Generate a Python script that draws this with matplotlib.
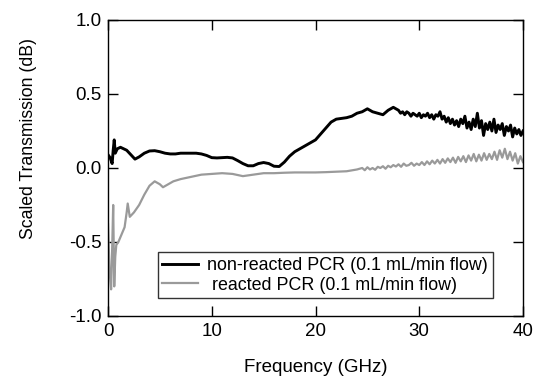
import matplotlib
matplotlib.use("Agg")
import matplotlib.pyplot as plt

plt.rcParams['font.family'] = ['Liberation Sans', 'DejaVu Sans']

# Non-reacted PCR (black)
freq_nr = [0.0, 0.2, 0.4, 0.5, 0.6, 0.7, 0.9, 1.2, 1.5, 1.8, 2.2, 2.6, 3.0, 3.5, 4.0, 4.5,
           5.0, 5.5, 6.0, 6.5, 7.0, 7.5, 8.0, 8.5, 9.0, 9.5, 10.0, 10.5, 11.0, 11.5, 12.0,
           12.5, 13.0, 13.5, 14.0, 14.5, 15.0, 15.5, 16.0, 16.5, 17.0, 17.5, 18.0, 18.5,
           19.0, 19.5, 20.0, 20.5, 21.0, 21.5, 22.0, 22.5, 23.0, 23.5, 24.0, 24.5, 25.0,
           25.5, 26.0, 26.5, 27.0, 27.5,
           28.0, 28.2, 28.4, 28.6, 28.8, 29.0, 29.2, 29.4, 29.6, 29.8,
           30.0, 30.2, 30.4, 30.6, 30.8, 31.0, 31.2, 31.4, 31.6, 31.8,
           32.0, 32.2, 32.4, 32.6, 32.8, 33.0, 33.2, 33.4, 33.6, 33.8,
           34.0, 34.2, 34.4, 34.6, 34.8, 35.0, 35.2, 35.4, 35.6, 35.8,
           36.0, 36.2, 36.4, 36.6, 36.8, 37.0, 37.2, 37.4, 37.6, 37.8,
           38.0, 38.2, 38.4, 38.6, 38.8, 39.0, 39.2, 39.4, 39.6, 39.8, 40.0]
trans_nr = [0.09, 0.07, 0.03, 0.12, 0.19, 0.10, 0.13, 0.14, 0.13, 0.12, 0.09, 0.06, 0.075,
            0.10, 0.115, 0.117, 0.11, 0.10, 0.095, 0.095, 0.10, 0.10, 0.10, 0.10, 0.095,
            0.085, 0.07, 0.068, 0.07, 0.072, 0.068, 0.05, 0.03, 0.015, 0.015, 0.03, 0.037,
            0.03, 0.012, 0.01, 0.04, 0.08, 0.11, 0.13, 0.15, 0.17, 0.19, 0.23, 0.27, 0.31,
            0.33, 0.335, 0.34, 0.35, 0.37, 0.38, 0.40, 0.38, 0.37, 0.36, 0.39, 0.41,
            0.39, 0.37, 0.38, 0.36, 0.38, 0.37, 0.35, 0.37, 0.36, 0.35,
            0.37, 0.34, 0.36, 0.35, 0.37, 0.34, 0.36, 0.33, 0.36, 0.35,
            0.38, 0.33, 0.35, 0.31, 0.34, 0.30, 0.33, 0.29, 0.32, 0.28,
            0.33, 0.30, 0.35, 0.27, 0.31, 0.26, 0.33, 0.28, 0.37, 0.27,
            0.32, 0.22, 0.30, 0.26, 0.31, 0.25, 0.33, 0.24, 0.29, 0.26,
            0.30, 0.22, 0.28, 0.25, 0.29, 0.21, 0.27, 0.23, 0.26, 0.22, 0.25]

# Reacted PCR (grey)
freq_r = [0.0, 0.15, 0.3, 0.4, 0.5, 0.6, 0.7, 0.8, 1.0, 1.3, 1.6, 1.8, 1.9, 2.1, 2.5, 3.0,
          3.5, 4.0, 4.5, 5.0, 5.3, 5.8, 6.3, 7.0, 8.0, 9.0, 10.0, 11.0, 12.0, 13.0, 14.0,
          15.0, 16.0, 17.0, 18.0, 19.0, 20.0, 21.0, 22.0, 23.0,
          24.0, 24.25, 24.5, 24.75, 25.0, 25.25, 25.5, 25.75, 26.0, 26.25, 26.5, 26.75,
          27.0, 27.25, 27.5, 27.75, 28.0, 28.25, 28.5, 28.75, 29.0, 29.25, 29.5, 29.75,
          30.0, 30.25, 30.5, 30.75, 31.0, 31.25, 31.5, 31.75, 32.0, 32.25, 32.5, 32.75,
          33.0, 33.25, 33.5, 33.75, 34.0, 34.25, 34.5, 34.75, 35.0, 35.25, 35.5, 35.75,
          36.0, 36.25, 36.5, 36.75, 37.0, 37.25, 37.5, 37.75, 38.0, 38.25, 38.5, 38.75,
          39.0, 39.25, 39.5, 39.75, 40.0]
trans_r = [-0.38, -0.70, -0.82, -0.55, -0.25, -0.80, -0.60, -0.52, -0.50, -0.45, -0.40,
           -0.30, -0.24, -0.33, -0.30, -0.25, -0.18, -0.12, -0.09, -0.11, -0.13, -0.11,
           -0.09, -0.075, -0.06, -0.045, -0.04, -0.035, -0.04, -0.055, -0.045, -0.035,
           -0.035, -0.032, -0.03, -0.03, -0.03, -0.028, -0.025, -0.022,
           -0.01, -0.005, 0.0, -0.015, 0.005, -0.01, 0.0, -0.012, 0.008, 0.0, 0.012, -0.005,
           0.015, 0.005, 0.02, 0.01, 0.025, 0.008, 0.03, 0.015, 0.02, 0.035, 0.015, 0.03,
           0.02, 0.04, 0.02, 0.045, 0.025, 0.05, 0.03, 0.055, 0.03, 0.06, 0.035, 0.065,
           0.04, 0.07, 0.035, 0.075, 0.045, 0.08, 0.04, 0.085, 0.05, 0.095, 0.045, 0.09,
           0.05, 0.10, 0.055, 0.095, 0.06, 0.11, 0.055, 0.12, 0.07, 0.13, 0.06, 0.11,
           0.05, 0.10, 0.03, 0.08, 0.04]

x_ticks = [0, 10, 20, 30, 40]
y_ticks = [-1.0, -0.5, 0.0, 0.5, 1.0]

fig = plt.figure(figsize=(5.34, 3.80), dpi=100)
ax = fig.add_axes([108/534, 1 - 316/380, 415/534, 296/380])

ax.plot(freq_r, trans_r, color='#9a9a9a', lw=1.6,
        label=' reacted PCR (0.1 mL/min flow)')
ax.plot(freq_nr, trans_nr, color='black', lw=2.1,
        label='non-reacted PCR (0.1 mL/min flow)')

ax.set_xlim(0, 40)
ax.set_ylim(-1.0, 1.0)
ax.set_xticks(x_ticks)
ax.set_yticks(y_ticks)
ax.set_yticklabels([f"{v:.1f}" for v in y_ticks])
ax.tick_params(direction='in', top=True, right=True, length=7, width=1,
               labelsize=13.5)
ax.tick_params(axis='x', pad=5)
ax.tick_params(axis='y', pad=4.5)
for s in ax.spines.values():
    s.set_linewidth(1.0)

ax.set_xlabel('Frequency (GHz)', fontsize=13.5)
ax.set_ylabel('Scaled Transmission (dB)', fontsize=12.7)
ax.yaxis.set_label_coords(-0.171, 0.598)
ax.xaxis.set_label_coords(0.5, -0.145)

handles, labels = ax.get_legend_handles_labels()
leg = ax.legend(handles[::-1], labels[::-1], loc='lower left',
                bbox_to_anchor=(50/415, 18/296), fontsize=12.9, frameon=True,
                fancybox=False, edgecolor='black', handlelength=2.0,
                borderpad=0.25, labelspacing=0.15, handletextpad=0.5,
                borderaxespad=0)
leg.get_frame().set_linewidth(1.0)

fig.savefig('out.png', dpi=100)
